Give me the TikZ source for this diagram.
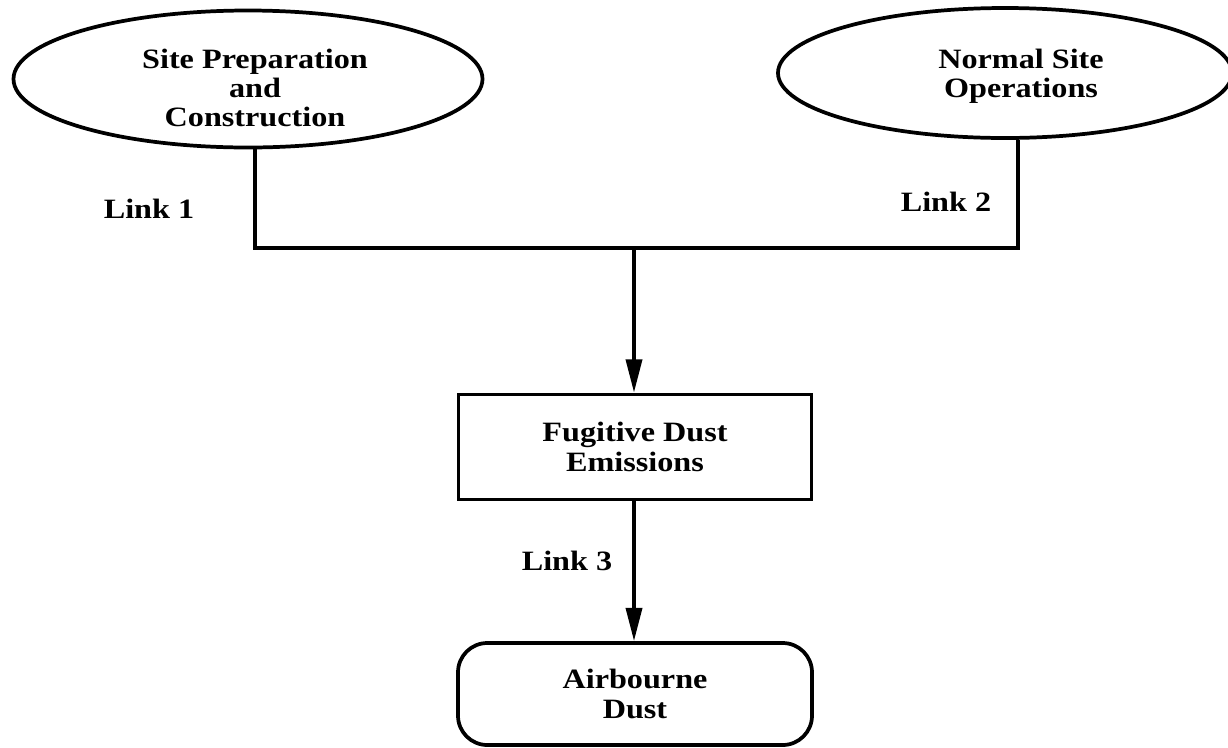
\documentclass[tikz,border=0pt]{standalone}
\usepackage{fontspec}
\setmainfont{Liberation Serif}[FakeStretch=1.15]
\usetikzlibrary{shapes.geometric,arrows.meta}

\tikzset{every picture/.style={line width=2.8pt}}
\tikzset{
  ovalbox/.style={draw, ellipse, inner sep=0.75pt},
  ovaltext/.style={inner sep=0.75pt, align=center},
  stagebox/.style={draw, rectangle, inner sep=0.75pt, align=center,
    minimum width=264.75pt, minimum height=78.75pt},
  endbox/.style={draw, rectangle, rounded corners=22pt, inner sep=0.75pt, align=center,
    minimum width=265.5pt, minimum height=76.5pt},
  linklabel/.style={anchor=base, inner sep=0.75pt},
  flow/.style={-{Triangle[length=25pt,width=12pt]}}
}

\begin{document}
\begin{tikzpicture}[x=0.75pt,y=0.75pt,yscale=-1,xscale=1,
  font=\fontsize{21}{22}\selectfont\bfseries]
    \useasboundingbox (0,0) rectangle (1228,747); %diagram is 1228 wide, 747 high
    % Text Node
    \node (prep) [ovalbox, minimum width=351.75pt, minimum height=102.75pt] at (248,79) {};
    \node (preptext) [ovaltext] at (255,88) {Site Preparation\\and\\Construction};
    % Text Node
    \node (ops) [ovalbox, minimum width=340.5pt, minimum height=97.5pt] at (1005,73) {};
    \node (opstext) [ovaltext] at (1021,76) {Normal Site\\Operations};
    % Text Node
    \node (fug) [stagebox] at (635,447) {Fugitive Dust\\Emissions};
    % Text Node
    \node (air) [endbox] at (635,694) {Airbourne\\Dust};
    % Junction
    \coordinate (join) at (634,248);
    % Connection
    \draw ([xshift=5.5pt]prep.south) |- (join) -| ([xshift=9.5pt]ops.south);
    % Connection
    \draw [flow] (join) -- (join |- fug.north);
    % Connection
    \draw [flow] (fug.south -| join) -- (air.north -| join);
    % Link labels
    \node (link1) [linklabel] at (149,218) {Link 1};
    \node (link2) [linklabel] at (946,211) {Link 2};
    \node (link3) [linklabel] at (567,570) {Link 3};
\end{tikzpicture}
\end{document}
